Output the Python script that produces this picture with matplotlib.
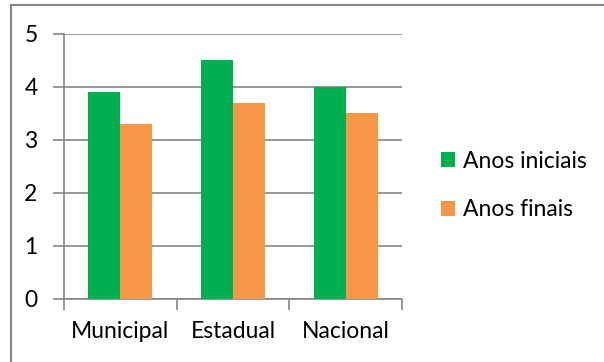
import numpy as np
from matplotlib import pyplot as plt
from matplotlib.lines import Line2D

categories = ["Municipal", "Estadual", "Nacional"]
anos_iniciais = [3.9, 4.5, 4.0]
anos_finais = [3.3, 3.7, 3.5]
y_ticks = [0, 1, 2, 3, 4, 5]

GREEN = "#00B050"
ORANGE = "#F79646"
GRAY = "#868686"

plt.rcParams["font.family"] = ["Lato", "DejaVu Sans"]

fig = plt.figure(figsize=(6.04, 3.62), dpi=100)
ax = fig.add_axes([64 / 604, 1 - 298.5 / 362, 338 / 604, 264.5 / 362])

x = np.arange(len(categories))
w = 0.284
ax.bar(x - w / 2, anos_iniciais, w, color=GREEN, label="Anos iniciais", zorder=3)
ax.bar(x + w / 2, anos_finais, w, color=ORANGE, label="Anos finais", zorder=3)

ax.set_xlim(-0.5, len(categories) - 0.5)
ax.set_ylim(0, 5)
ax.set_yticks(y_ticks)
ax.set_yticklabels([str(v) for v in y_ticks], fontsize=16.5)
ax.set_xticks(x)
ax.set_xticklabels(categories, fontsize=16.5)
ax.set_xticks(np.arange(len(categories) + 1) - 0.5, minor=True)

ax.tick_params(axis="x", which="major", length=0, pad=16)
ax.tick_params(axis="x", which="minor", length=8, color=GRAY, width=1.2, direction="out")
ax.tick_params(axis="y", length=8, color=GRAY, width=1.2, direction="out", pad=11)

ax.grid(axis="y", color=GRAY, linewidth=1.2, zorder=0)
for side in ["top", "right"]:
    ax.spines[side].set_visible(False)
for side in ["left", "bottom"]:
    ax.spines[side].set_color(GRAY)
    ax.spines[side].set_linewidth(1.2)

fig.legend(loc="center left", bbox_to_anchor=(441 / 604, 1 - 185.5 / 362),
           frameon=False, fontsize=16.5, handlelength=0.62, handleheight=0.62,
           handletextpad=0.35, labelspacing=1.2, borderaxespad=0, borderpad=0)

# outer chart border (only top and left edges visible in the crop)
fig.add_artist(Line2D([11 / 604, 11 / 604], [0, 1 - 5 / 362], transform=fig.transFigure,
                      color=GRAY, linewidth=1.5))
fig.add_artist(Line2D([11 / 604, 1], [1 - 5 / 362, 1 - 5 / 362], transform=fig.transFigure,
                      color=GRAY, linewidth=1.5))

plt.savefig("out.png", dpi=100)
